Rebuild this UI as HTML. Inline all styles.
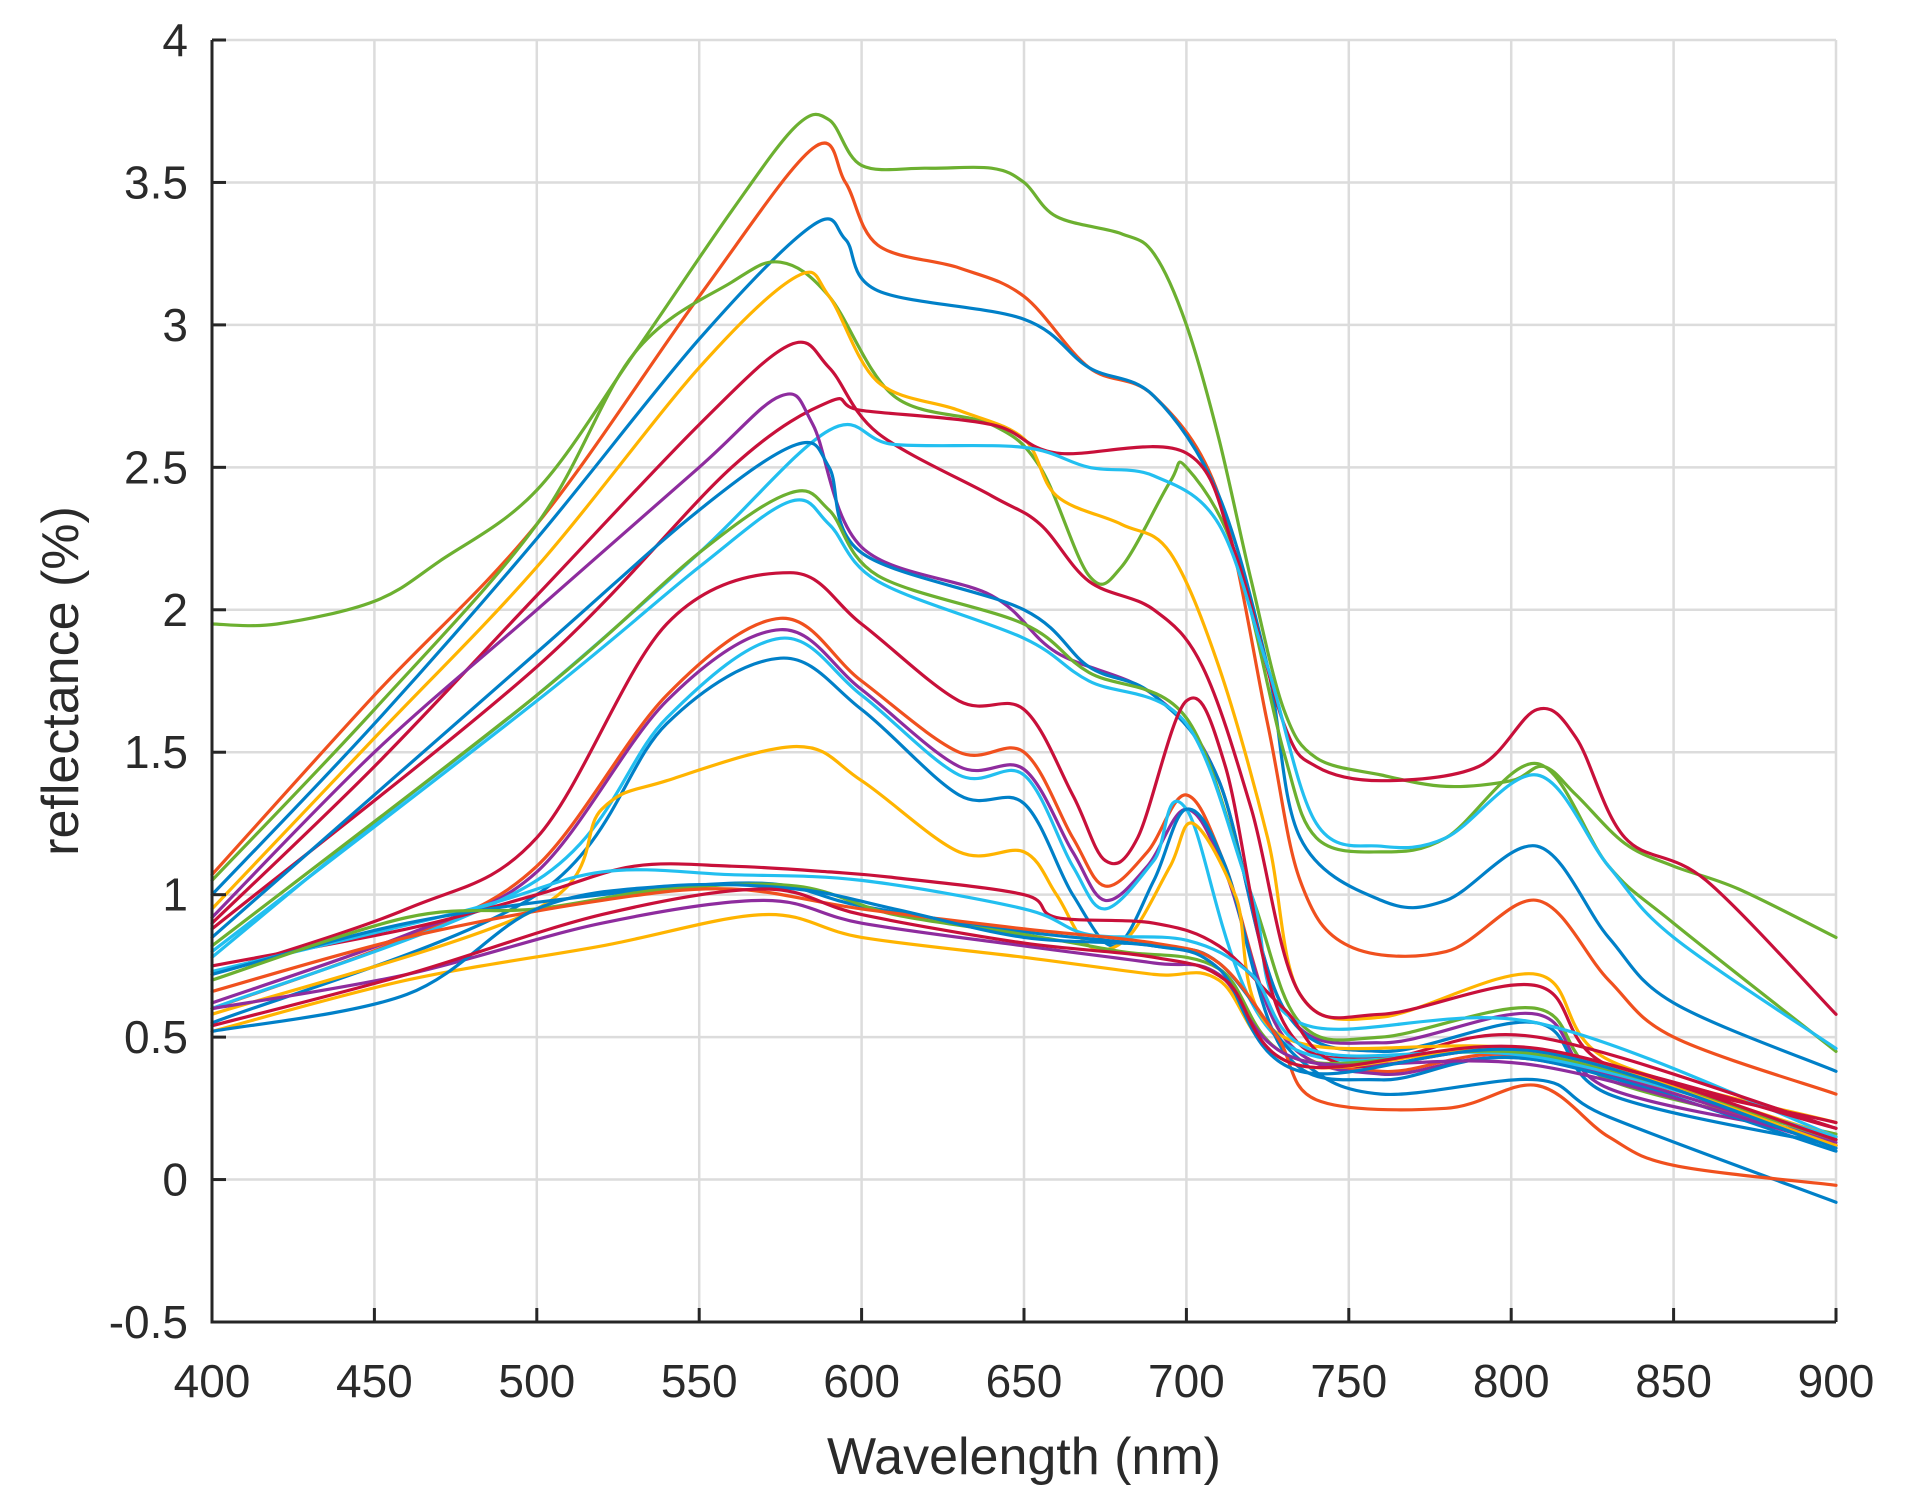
<!DOCTYPE html>
<html><head><meta charset="utf-8"><style>
html,body{margin:0;padding:0;background:#fff;}
svg{display:block;}
text{font-family:"Liberation Sans",Arial,sans-serif;fill:#2a2a2a;}
</style></head><body>
<svg id="s" width="1910" height="1511" xmlns="http://www.w3.org/2000/svg">
<rect width="1910" height="1511" fill="#fff"/>
<g id="grid" stroke="#dcdcdc" stroke-width="2.5"></g>
<g id="lines" fill="none" stroke-width="3.2" stroke-linejoin="round" stroke-linecap="round"></g>
<g id="axes" stroke="#262626" stroke-width="3" fill="none"></g>
<g id="labels" font-size="46"></g>
<text x="1024" y="1474" font-size="52" text-anchor="middle">Wavelength (nm)</text>
<text transform="translate(78,681) rotate(-90)" font-size="52" text-anchor="middle">reflectance (%)</text>
</svg>
<script>
var X0=212,X1=1836,Y0=40,Y1=1322;
function px(l){return X0+(l-400)/500*(X1-X0);}
function py(v){return Y0+(4-v)/4.5*(Y1-Y0);}
var NS="http://www.w3.org/2000/svg";
function el(t,a,p){var e=document.createElementNS(NS,t);for(var k in a)e.setAttribute(k,a[k]);p.appendChild(e);return e;}
var g=document.getElementById('grid'),ax=document.getElementById('axes'),lb=document.getElementById('labels');
for(var l=450;l<=900;l+=50){el('line',{x1:px(l),y1:Y0,x2:px(l),y2:Y1},g);}
for(var v=-0.5;v<=4;v+=0.5){if(v>-0.5)el('line',{x1:X0,y1:py(v),x2:X1,y2:py(v)},g);}
el('path',{d:'M'+X0+' '+Y0+'V'+Y1+'H'+X1},ax);
for(var l=400;l<=900;l+=50){el('line',{x1:px(l),y1:Y1,x2:px(l),y2:Y1-14},ax);var t=el('text',{x:px(l),y:1397,'text-anchor':'middle'},lb);t.textContent=l;}
for(var v=-0.5;v<=4.01;v+=0.5){el('line',{x1:X0,y1:py(v),x2:X0+14,y2:py(v)},ax);var t=el('text',{x:188,y:py(v)+16,'text-anchor':'end'},lb);t.textContent=(Math.round(v*10)/10).toString();}
var C={r:'#c8103a',o:'#f0501e',y:'#ffb400',p:'#8e2c9e',g:'#6cb030',c:'#22bff0',b:'#0080c8'};
var D=[
['g',[400,1.95,420,1.95,450,2.03,470,2.17,500,2.42,530,2.9,560,3.4,580,3.7,590,3.72,600,3.56,620,3.55,640,3.55,650,3.5,660,3.38,680,3.32,690,3.25,700,3.0,710,2.6,720,2.1,730,1.65,740,1.48,760,1.42,780,1.38,800,1.4,810,1.45,820,1.35,835,1.18,850,1.1,870,1.02,900,0.85]],
['o',[400,1.07,450,1.7,500,2.3,550,3.1,585,3.62,595,3.5,605,3.28,630,3.2,650,3.1,670,2.85,690,2.75,710,2.4,725,1.6,735,1.05,750,0.82,780,0.8,808,0.98,830,0.7,850,0.5,900,0.3]],
['b',[400,1.0,450,1.6,500,2.25,550,2.95,585,3.35,595,3.3,605,3.12,650,3.02,670,2.85,690,2.75,710,2.4,725,1.8,735,1.2,760,0.98,780,0.98,808,1.17,830,0.85,850,0.62,900,0.38]],
['g',[400,1.05,450,1.65,500,2.3,530,2.9,560,3.15,575,3.22,590,3.1,610,2.75,640,2.65,655,2.5,670,2.12,680,2.15,695,2.45,700,2.5,715,2.2,730,1.5,740,1.2,760,1.15,780,1.2,808,1.46,830,1.1,850,0.9,900,0.45]],
['y',[400,0.95,450,1.55,500,2.15,550,2.85,580,3.17,590,3.1,605,2.8,630,2.7,650,2.6,660,2.4,680,2.3,695,2.2,710,1.8,725,1.2,735,0.65,760,0.57,808,0.72,830,0.42,900,0.2]],
['r',[400,0.9,450,1.45,500,2.05,550,2.65,578,2.93,590,2.85,605,2.62,640,2.4,655,2.3,670,2.1,690,2.0,705,1.8,720,1.3,735,0.65,760,0.58,808,0.68,830,0.4,900,0.2]],
['r',[400,0.88,500,1.8,560,2.5,590,2.73,600,2.7,640,2.65,660,2.55,700,2.55,715,2.2,730,1.6,740,1.45,760,1.4,790,1.45,808,1.65,820,1.55,835,1.2,860,1.05,900,0.58]],
['c',[400,0.78,450,1.25,500,1.7,550,2.2,590,2.63,610,2.58,650,2.57,670,2.5,690,2.47,710,2.3,725,1.8,740,1.25,760,1.17,780,1.2,808,1.42,830,1.1,850,0.85,900,0.46]],
['p',[400,0.92,450,1.5,500,2.0,550,2.5,575,2.75,585,2.65,600,2.22,640,2.05,660,1.85,690,1.7,710,1.4,730,0.6,760,0.48,808,0.58,830,0.32,900,0.15]],
['b',[400,0.85,500,1.85,550,2.35,580,2.58,590,2.5,600,2.2,650,2.0,670,1.8,690,1.7,710,1.4,730,0.6,760,0.45,808,0.55,830,0.3,900,0.12]],
['g',[400,0.82,500,1.7,550,2.2,578,2.41,590,2.35,605,2.12,650,1.95,670,1.78,700,1.62,720,1.0,735,0.55,760,0.5,808,0.6,830,0.35,900,0.16]],
['c',[400,0.8,500,1.68,550,2.15,578,2.38,590,2.3,605,2.1,650,1.9,670,1.75,700,1.6,720,1.0,735,0.55,808,0.55,900,0.15]],
['r',[400,0.72,460,0.95,500,1.2,540,1.95,578,2.13,600,1.95,630,1.68,650,1.65,665,1.35,675,1.12,685,1.2,700,1.68,712,1.45,730,0.55,760,0.43,808,0.5,900,0.18]],
['o',[400,0.6,460,0.85,500,1.1,540,1.7,575,1.97,600,1.75,630,1.5,650,1.5,665,1.2,675,1.03,688,1.15,700,1.35,712,1.1,730,0.5,760,0.38,808,0.43,900,0.12]],
['p',[400,0.62,460,0.86,500,1.08,540,1.68,575,1.93,600,1.72,630,1.45,650,1.44,665,1.15,675,0.98,688,1.1,700,1.3,712,1.08,730,0.5,760,0.37,808,0.42,900,0.13]],
['c',[400,0.6,500,1.05,540,1.62,575,1.9,600,1.7,630,1.42,650,1.42,665,1.1,675,0.95,690,1.12,700,1.3,730,0.48,808,0.44,900,0.14]],
['b',[400,0.55,500,1.0,540,1.6,575,1.83,600,1.65,630,1.35,650,1.32,665,1.0,678,0.82,690,1.05,700,1.3,712,1.1,730,0.45,760,0.35,808,0.42,900,0.1]],
['y',[400,0.58,500,0.95,520,1.3,540,1.4,580,1.52,600,1.4,630,1.15,650,1.15,660,1.0,670,0.82,682,0.85,695,1.1,702,1.25,715,1.0,730,0.5,808,0.45,900,0.15]],
['r',[400,0.75,460,0.88,500,1.0,530,1.1,560,1.1,590,1.08,610,1.06,650,1.0,660,0.92,690,0.9,710,0.82,730,0.6,750,0.4,808,0.45,900,0.18]],
['c',[400,0.73,480,0.95,520,1.08,560,1.07,600,1.05,650,0.95,670,0.86,700,0.84,720,0.72,740,0.45,808,0.43,900,0.15]],
['b',[400,0.72,460,0.9,520,1.0,570,1.04,600,0.96,650,0.87,690,0.82,710,0.76,735,0.42,760,0.3,808,0.35,830,0.22,900,-0.08]],
['g',[400,0.7,460,0.92,500,0.95,540,1.02,580,1.03,610,0.93,650,0.86,680,0.8,710,0.74,735,0.42,808,0.44,900,0.14]],
['o',[400,0.66,460,0.85,520,0.98,560,1.02,600,0.95,650,0.88,690,0.83,710,0.76,728,0.5,740,0.28,780,0.25,808,0.33,830,0.15,850,0.05,900,-0.02]],
['p',[400,0.6,460,0.72,520,0.9,570,0.98,600,0.9,650,0.82,690,0.76,710,0.72,735,0.42,808,0.4,900,0.12]],
['y',[400,0.52,460,0.7,520,0.82,570,0.93,600,0.85,650,0.78,690,0.72,710,0.7,735,0.4,808,0.45,900,0.12]],
['b',[400,0.52,460,0.65,500,0.95,540,1.03,580,1.02,610,0.95,650,0.85,690,0.82,710,0.74,735,0.38,808,0.45,900,0.11]],
['r',[400,0.54,460,0.72,520,0.93,570,1.02,600,0.93,650,0.83,690,0.78,712,0.7,735,0.4,808,0.46,900,0.14]]
];
var L=document.getElementById('lines');
D.forEach(function(s){var a=s[1],P=[];for(var i=0;i<a.length;i+=2)P.push([px(a[i]),py(a[i+1])]);
var d='M'+P[0][0].toFixed(1)+' '+P[0][1].toFixed(1);
for(var i=0;i<P.length-1;i++){var p0=P[Math.max(0,i-1)],p1=P[i],p2=P[i+1],p3=P[Math.min(P.length-1,i+2)];
var c1=[p1[0]+(p2[0]-p0[0])/6,p1[1]+(p2[1]-p0[1])/6],c2=[p2[0]-(p3[0]-p1[0])/6,p2[1]-(p3[1]-p1[1])/6];
d+='C'+c1[0].toFixed(1)+' '+c1[1].toFixed(1)+' '+c2[0].toFixed(1)+' '+c2[1].toFixed(1)+' '+p2[0].toFixed(1)+' '+p2[1].toFixed(1);}
el('path',{d:d,stroke:C[s[0]]},L);});
</script>
</body></html>
